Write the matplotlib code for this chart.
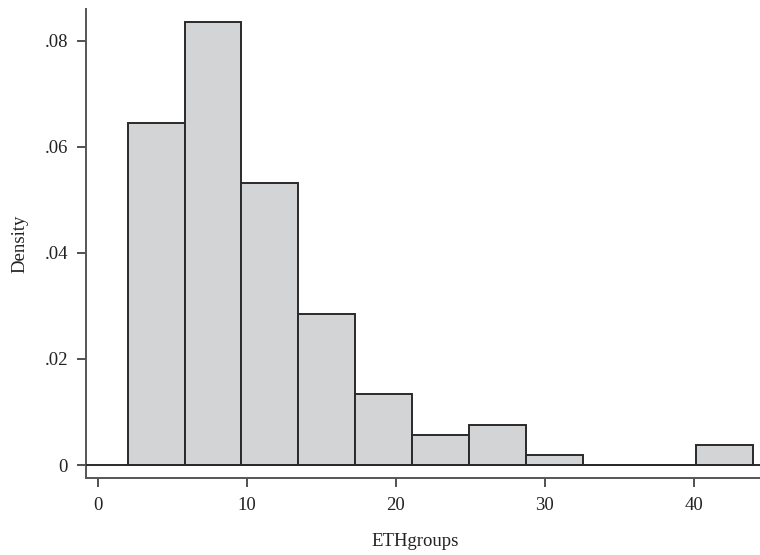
import matplotlib
matplotlib.use("Agg")
import matplotlib.pyplot as plt

# Histogram of ETHgroups (density), bins from 2 to 44
bin_edges = [2.0, 5.818, 9.636, 13.455, 17.273, 21.091, 24.909, 28.727, 32.545, 36.364, 40.182, 44.0]
density = [0.0645, 0.0835, 0.0531, 0.0285, 0.0133, 0.0057, 0.0076, 0.0019, 0.0, 0.0, 0.0038]
xticks = [0, 10, 20, 30, 40]
xtick_labels = ["0", "10", "20", "30", "40"]
yticks = [0, 0.02, 0.04, 0.06, 0.08]
ytick_labels = ["0", ".02", ".04", ".06", ".08"]

plt.rcParams['font.family'] = ['Liberation Serif', 'DejaVu Serif']

W, H = 760, 555
fig = plt.figure(figsize=(W / 100, H / 100), dpi=100)
L, R, T, B = 86, 760, 9, 478
ax = fig.add_axes([L / W, 1 - B / H, (R - L) / W, (B - T) / H])

edge = "#2a2a2a"
fill = "#d3d4d6"
lefts = bin_edges[:-1]
widths = [bin_edges[i + 1] - bin_edges[i] for i in range(len(lefts))]
ax.bar(lefts, density, width=widths, align="edge", color=fill,
       edgecolor=edge, linewidth=1.4, zorder=2)
ax.axhline(0, color=edge, lw=1.4, zorder=3)

ax.set_xlim(-0.806, 44.46)
ax.set_ylim(-0.00245, 0.086)

ax.spines["top"].set_visible(False)
ax.spines["right"].set_visible(False)
for s in ("left", "bottom"):
    ax.spines[s].set_color("#555555")
    ax.spines[s].set_linewidth(1.4)

ax.set_xticks(xticks)
ax.set_xticklabels(xtick_labels)
ax.set_yticks(yticks)
ax.set_yticklabels(ytick_labels)
ax.tick_params(axis="both", which="major", length=6.5, width=1.2,
               color="#333333", labelsize=13.5, labelcolor="#222222")
ax.tick_params(axis="y", pad=6.5)
ax.tick_params(axis="x", pad=7)

fig.text(415 / W, 1 - 542 / H, "ETHgroups", ha="center", va="center",
         fontsize=13.5, color="#222222")
fig.text(20 / W, 1 - 244 / H, "Density", ha="center", va="center",
         rotation=90, fontsize=13.5, color="#222222")

fig.savefig("out.png", dpi=100)
